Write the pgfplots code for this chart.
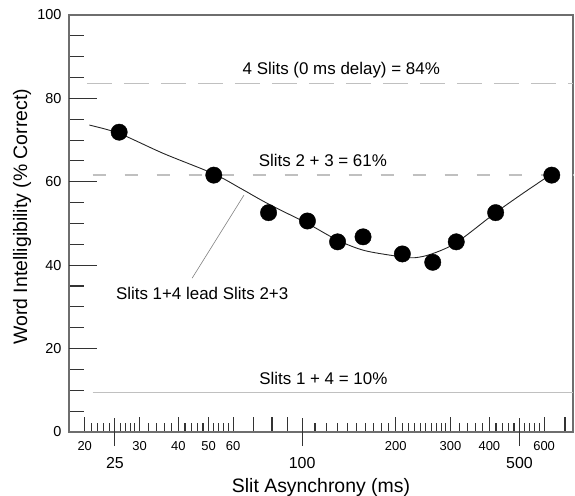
\documentclass[border=0pt]{standalone}
\usepackage{fontspec}
\setmainfont{Liberation Sans}
\usepackage{pgfplots}
\pgfplotsset{compat=1.18}

\definecolor{refline}{RGB}{192,192,192}
\definecolor{frame}{RGB}{110,110,110}

\begin{document}
\begin{tikzpicture}
\begin{semilogxaxis}[
    scale only axis,
    width=504bp, height=417bp,
    xmin=17.8, xmax=743,
    ymin=0, ymax=100,
    axis line style={draw=frame, line width=1.3bp},
    tick align=inside,
    tick pos=left,
    tick style={draw=black!80, line width=1.1bp},
    major tick style={draw=black!80, line width=1.1bp},
    every minor y tick/.style={draw=none},
    minor y tick num=0,
    major tick length=15bp,
    minor tick length=9bp,
    log ticks with fixed point,
    xtick={20,30,40,50,60,70,80,90,200,300,400,600,700},
    xticklabels={20,30,40,50,60,,,,200,300,400,600,},
    xticklabel style={font=\fontsize{13}{13}\selectfont, yshift=-6bp},
    minor xtick={21,22,23,24,25,26,27,28,29,32,34,36,38,42,44,46,48,52,54,56,58,
                 110,120,130,140,150,160,170,180,190,
                 210,220,230,240,250,260,270,280,290,
                 320,340,360,380,420,440,460,480,520,540,560,580},
    extra x ticks={25,100,500},
    extra x tick labels={25,100,500},
    extra x tick style={major tick length=28bp, tick align=center,
        xticklabel style={font=\fontsize{16}{16}\selectfont, yshift=-2bp}},
    ytick={0,5,10,15,20,25,30,35,40,45,50,55,60,65,70,75,80,85,90,95,100},
    yticklabels={0,,,,20,,,,40,,,,60,,,,80,,,,100},
    yticklabel style={font=\fontsize{14.5}{14.5}\selectfont, xshift=-4bp},
    extra y ticks={20,40,60,80},
    extra y tick labels={},
    extra y tick style={major tick length=28bp},
    xlabel={Slit Asynchrony (ms)},
    ylabel={Word Intelligibility (\% Correct)},
    every axis x label/.style={at={(axis description cs:0.5,-0.133)}, anchor=center,
        inner sep=0pt, font=\fontsize{19.5}{19.5}\selectfont},
    every axis y label/.style={at={(axis description cs:-0.0933,0.516)}, rotate=90,
        anchor=center, font=\fontsize{19.5}{19.5}\selectfont},
    clip=false,
]
\coordinate (ll) at (rel axis cs:0,0);

% reference levels
\addplot[refline, line width=1.3bp, dash pattern=on 25bp off 12bp]
    coordinates {(20.3,83.5) (743,83.5)};
\addplot[refline, line width=1.3bp, dash pattern=on 13bp off 19bp]
    coordinates {(21.2,61.6) (743,61.6)};
\addplot[refline, line width=1.3bp]
    coordinates {(21.2,9.4) (743,9.4)};

% fitted curve
\addplot[black!85, line width=0.9bp, smooth, tension=0.5] coordinates {
    (20.7,73.6) (25.8,71.6) (35.8,66.8) (52,61.9) (63.5,58.4) (77.4,54.8)
    (104,50.0) (130,46.0) (159,43.5) (209,42.0) (231,41.8) (261,42.7)
    (313,45.4) (419,52.6) (512,57.2) (635,61.9)
};

% leader line
\addplot[gray, line width=0.6bp] coordinates {(44.3,36.9) (65,56.8)};

% measured points
\addplot[only marks, mark=*, mark size=8.2bp, black] coordinates {
    (25.8,71.9) (52,61.6) (78,52.6) (104,50.6) (130,45.6) (157,46.8)
    (210,42.7) (263,40.7) (313,45.6) (419,52.6) (635,61.6)
};

\node[font=\fontsize{17}{17}\selectfont] at (axis cs:133.6,86.8) {4 Slits (0 ms delay) = 84\%};
\node[font=\fontsize{17}{17}\selectfont] at (axis cs:116.6,65.2) {Slits 2 + 3 = 61\%};
\node[font=\fontsize{17}{17}\selectfont] at (axis cs:117,12.9) {Slits 1 + 4 = 10\%};
\node[font=\fontsize{17}{17}\selectfont] at (axis cs:47.7,33.3) {Slits 1+4 lead Slits 2+3};
\end{semilogxaxis}
\pgfresetboundingbox
\path ([shift={(-69bp,-64bp)}]ll) rectangle ++(575bp,496bp);
\end{tikzpicture}
\end{document}
